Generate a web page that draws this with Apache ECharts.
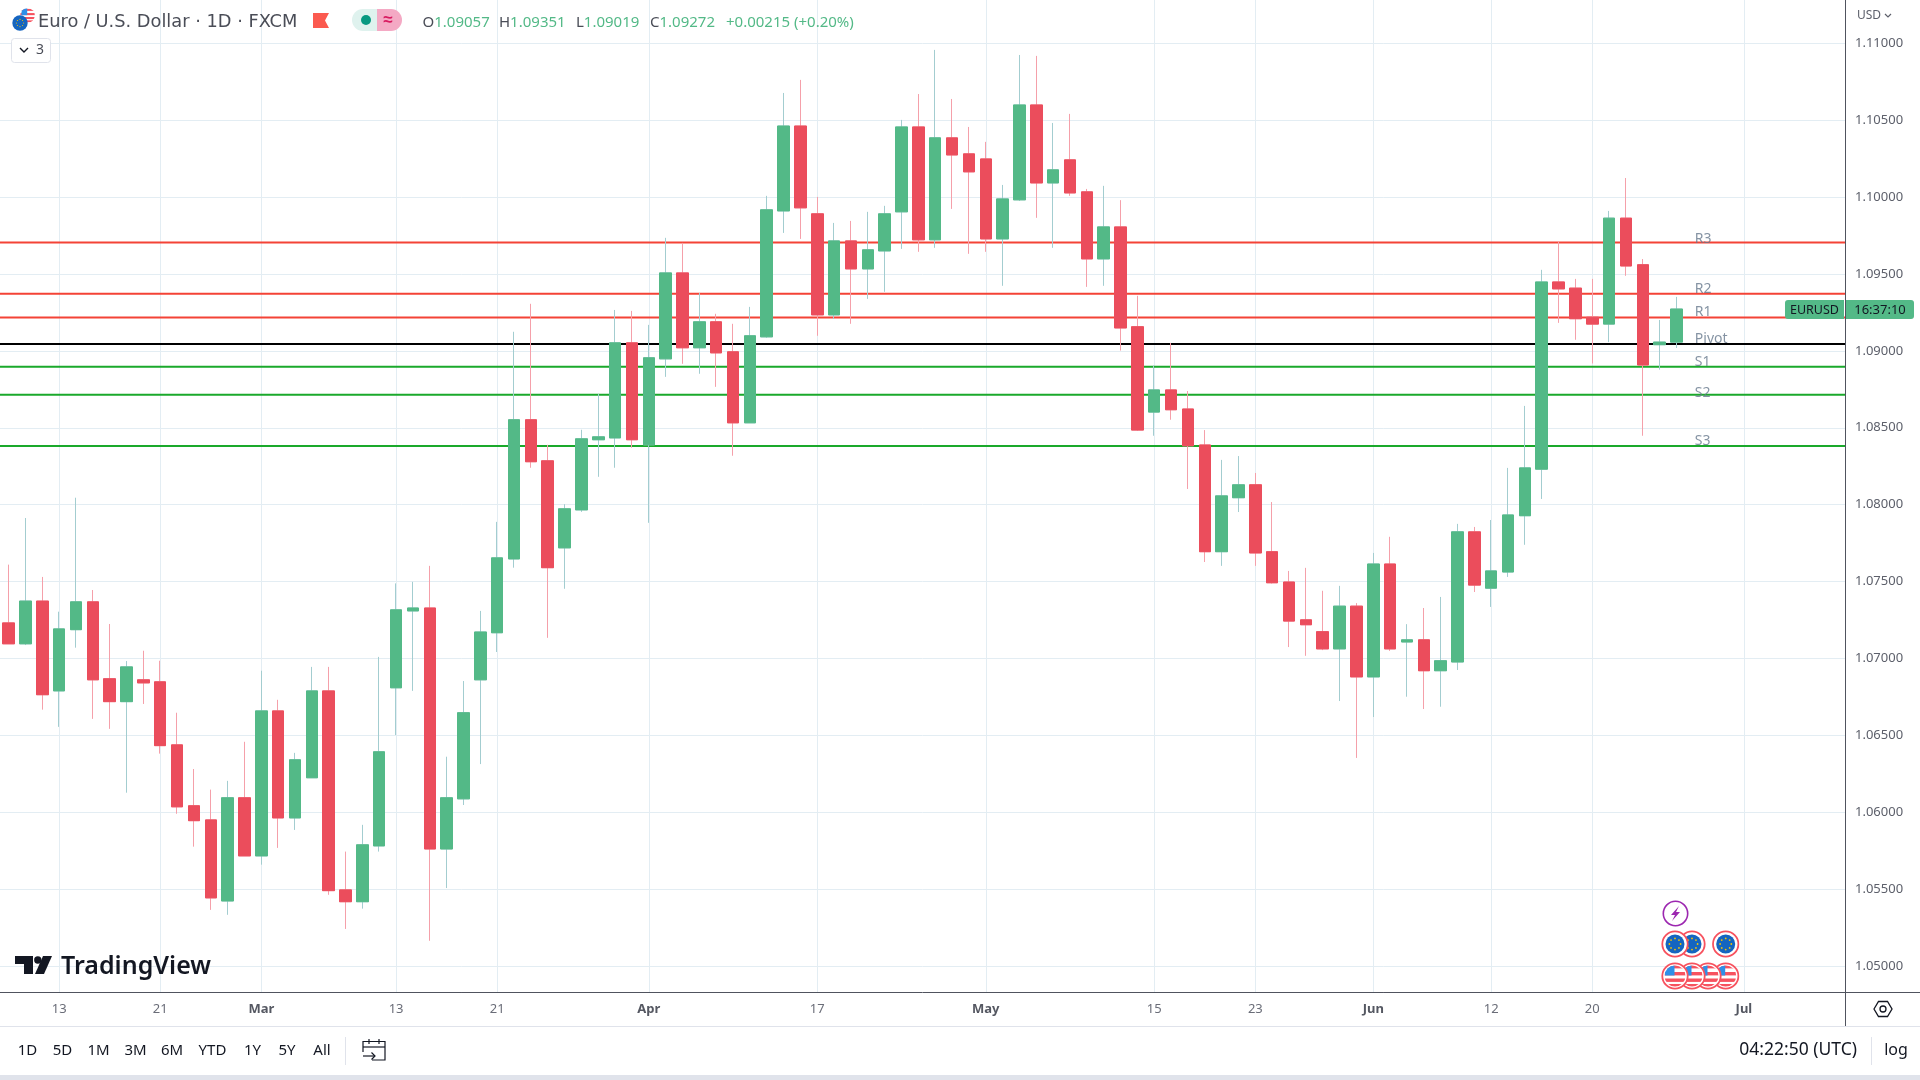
<!DOCTYPE html>
<html>
<head>
<meta charset="utf-8">
<title>EURUSD</title>
<style>html,body{margin:0;padding:0;background:#fff}#chart{width:1920px;height:1080px}</style>
<script src="https://cdn.jsdelivr.net/npm/echarts@6/dist/echarts.min.js"></script>
</head>
<body>
<div id="chart"></div>
<script>
// one entry per candle slot, the last ten slots are the empty space on the right
var days = [
'2023-02-08','2023-02-09','2023-02-10',
'2023-02-13','2023-02-14','2023-02-15','2023-02-16','2023-02-17',
'2023-02-20','2023-02-21','2023-02-22','2023-02-23','2023-02-24',
'2023-02-27','2023-02-28','2023-03-01','2023-03-02','2023-03-03',
'2023-03-06','2023-03-07','2023-03-08','2023-03-09','2023-03-10',
'2023-03-13','2023-03-14','2023-03-15','2023-03-16','2023-03-17',
'2023-03-20','2023-03-21','2023-03-22','2023-03-23','2023-03-24',
'2023-03-27','2023-03-28','2023-03-29','2023-03-30','2023-03-31',
'2023-04-03','2023-04-04','2023-04-05','2023-04-06','2023-04-07',
'2023-04-10','2023-04-11','2023-04-12','2023-04-13','2023-04-14',
'2023-04-17','2023-04-18','2023-04-19','2023-04-20','2023-04-21',
'2023-04-24','2023-04-25','2023-04-26','2023-04-27','2023-04-28',
'2023-05-01','2023-05-02','2023-05-03','2023-05-04','2023-05-05',
'2023-05-08','2023-05-09','2023-05-10','2023-05-11','2023-05-12',
'2023-05-15','2023-05-16','2023-05-17','2023-05-18','2023-05-19',
'2023-05-22','2023-05-23','2023-05-24','2023-05-25','2023-05-26',
'2023-05-29','2023-05-30','2023-05-31','2023-06-01','2023-06-02',
'2023-06-05','2023-06-06','2023-06-07','2023-06-08','2023-06-09',
'2023-06-12','2023-06-13','2023-06-14','2023-06-15','2023-06-16',
'2023-06-19','2023-06-20','2023-06-21','2023-06-22','2023-06-23',
'2023-06-26','2023-06-27','2023-06-28','2023-06-29','2023-06-30',
'2023-07-03','2023-07-04','2023-07-05','2023-07-06','2023-07-07',
'2023-07-10','2023-07-11'
];

var opens = [
1.07231,1.07095,1.07373,1.06789,1.07187,1.07368,1.06868,1.06719,1.06861,1.06848,
1.06438,1.06042,1.05950,1.05423,1.06094,1.05716,1.06659,1.05963,1.06224,1.06789,
1.05495,1.05418,1.05781,1.06809,1.07309,1.07328,1.05761,1.06087,1.06861,1.07167,
1.07647,1.08552,1.08285,1.07719,1.07966,1.08422,1.08434,1.09052,1.08389,1.08948,
1.09507,1.09020,1.09189,1.08994,1.08532,1.09091,1.09910,1.10462,1.09891,1.09234,
1.09715,1.09533,1.09650,1.09904,1.10456,1.09722,1.10385,1.10281,1.10248,1.09728,
1.09982,1.10599,1.10092,1.10242,1.10034,1.09598,1.09806,1.09157,1.08602,1.08746,
1.08622,1.08388,1.07694,1.08045,1.08129,1.07694,1.07497,1.07251,1.07174,1.07062,
1.07340,1.06880,1.07614,1.07107,1.07121,1.06920,1.06977,1.07823,1.07457,1.07562,
1.07928,1.08231,1.09448,1.09408,1.09219,1.09174,1.09863,1.09560,1.09040,1.09057
];
var highs = [
1.07610,1.07913,1.07530,1.07304,1.08045,1.07445,1.07224,1.06983,1.07050,1.06985,
1.06647,1.06281,1.06147,1.06204,1.06458,1.06920,1.06731,1.06386,1.06945,1.06945,
1.05744,1.05918,1.07010,1.07488,1.07498,1.07602,1.06361,1.06853,1.07309,1.07888,
1.09124,1.09306,1.08389,1.08003,1.08487,1.08720,1.09266,1.09260,1.09169,1.09735,
1.09702,1.09377,1.09241,1.09176,1.09286,1.10008,1.10677,1.10762,1.10001,1.09832,
1.09845,1.09904,1.09943,1.10502,1.10670,1.10957,1.10638,1.10456,1.10359,1.10079,
1.10924,1.10918,1.10482,1.10541,1.10053,1.10073,1.09980,1.09358,1.08905,1.09052,
1.08739,1.08485,1.08291,1.08316,1.08206,1.08017,1.07569,1.07589,1.07440,1.07472,
1.07360,1.07686,1.07791,1.07223,1.07328,1.07400,1.07875,1.07855,1.07900,1.08239,
1.08642,1.09527,1.09709,1.09468,1.09468,1.09910,1.10124,1.09597,1.09201,1.09351
];
var lows = [
1.07095,1.07087,1.06667,1.06555,1.07070,1.06607,1.06542,1.06127,1.06704,1.06381,
1.05990,1.05776,1.05365,1.05333,1.05716,1.05659,1.05768,1.05885,1.06224,1.05463,
1.05241,1.05373,1.05744,1.06502,1.06789,1.05164,1.05507,1.06047,1.06313,1.07042,
1.07590,1.08240,1.07134,1.07453,1.07953,1.08181,1.08240,1.08370,1.07882,1.08831,
1.08916,1.08851,1.08766,1.08318,1.08532,1.09085,1.09767,1.09728,1.09098,1.09208,
1.09176,1.09338,1.09384,1.09663,1.09644,1.09670,1.09923,1.09631,1.09644,1.09423,
1.09975,1.09865,1.09670,1.10008,1.09416,1.09423,1.09002,1.08480,1.08448,1.08552,
1.08102,1.07627,1.07602,1.07952,1.07602,1.07487,1.07074,1.07017,1.07054,1.06723,
1.06353,1.06619,1.07049,1.06751,1.06671,1.06686,1.06925,1.07432,1.07335,1.07530,
1.07739,1.08037,1.09182,1.09072,1.08918,1.09057,1.09488,1.08448,1.08878,1.09019
];
var closes = [
1.07095,1.07373,1.06764,1.07192,1.07368,1.06861,1.06719,1.06945,1.06841,1.06433,
1.06035,1.05945,1.05443,1.06094,1.05716,1.06659,1.05963,1.06341,1.06789,1.05490,
1.05418,1.05788,1.06393,1.07316,1.07328,1.05761,1.06094,1.06647,1.07172,1.07654,
1.08552,1.08279,1.07590,1.07973,1.08428,1.08441,1.09052,1.08422,1.08955,1.09507,
1.09020,1.09189,1.08987,1.08532,1.09098,1.09917,1.10462,1.09930,1.09234,1.09715,
1.09533,1.09657,1.09891,1.10456,1.09722,1.10385,1.10274,1.10164,1.09728,1.09988,
1.10599,1.10092,1.10177,1.10027,1.09598,1.09806,1.09149,1.08485,1.08746,1.08617,
1.08383,1.07694,1.08057,1.08129,1.07686,1.07492,1.07243,1.07219,1.07062,1.07340,
1.06880,1.07614,1.07062,1.07121,1.06920,1.06985,1.07823,1.07477,1.07569,1.07933,
1.08239,1.09448,1.09403,1.09209,1.09174,1.09863,1.09552,1.08908,1.09057,1.09272
];

var priceTicks = [1.05,1.055,1.06,1.065,1.07,1.075,1.08,1.085,1.09,1.095,1.10,1.105,1.11];

var dateLabels = {
'2023-02-13':'13','2023-02-21':'21','2023-03-01':'Mar','2023-03-13':'13','2023-03-21':'21',
'2023-04-03':'Apr','2023-04-17':'17','2023-05-01':'May','2023-05-15':'15','2023-05-23':'23',
'2023-06-01':'Jun','2023-06-12':'12','2023-06-20':'20','2023-07-03':'Jul'
};
var monthNames = ['Mar','Apr','May','Jun','Jul'];

var levelNames = ['R3','R2','R1','Pivot','S1','S2','S3'];
var levelValues = [1.09704,1.09371,1.09217,1.09045,1.08896,1.08714,1.08382];
var levelColors = ['#f44336','#f44336','#f44336','#000000','#1aa92b','#1aa92b','#1aa92b'];
var levelLabelSlot = 100;

var upColor = '#53b987', downColor = '#eb4d5c';
var upWick = '#a3cdd0', downWick = '#f5a0aa';
var uiFont = '"Noto Sans", sans-serif';

// x axis runs in candle slots, the fractions put slot 0 half a candle inside the frame
var slotMin = -0.51, slotMax = 109;

var xTicks = [];
days.forEach(function (d, n) { if (dateLabels[d]) xTicks.push(n); });

var wickData = [], bodyData = [];
for (var i = 0; i < opens.length; i++) {
  wickData.push([i, opens[i], closes[i], lows[i], highs[i]]);
  bodyData.push([i, opens[i], closes[i], Math.min(opens[i], closes[i]), Math.max(opens[i], closes[i])]);
}

function uri(svg) { return 'data:image/svg+xml;charset=utf-8,' + encodeURIComponent(svg); }

function euSvg(ring) {
  var dots = '';
  for (var a = 0; a < 8; a++) {
    dots += '<circle r="0.9" fill="#f5c400" cx="' + (14 + 5.6 * Math.cos(a * Math.PI / 4)) + '" cy="' + (14 + 5.6 * Math.sin(a * Math.PI / 4)) + '"/>';
  }
  return uri('<svg xmlns="http://www.w3.org/2000/svg" width="28" height="28">' +
    (ring ? '<circle cx="14" cy="14" r="12.7" fill="#fff" stroke="#f7525f" stroke-width="1.8"/>' : '') +
    '<circle cx="14" cy="14" r="' + (ring ? 9.5 : 12) + '" fill="#1565c0"/>' + dots + '</svg>');
}
function usSvg(ring) {
  return uri('<svg xmlns="http://www.w3.org/2000/svg" width="28" height="28">' +
    '<defs><clipPath id="c"><circle cx="14" cy="14" r="' + (ring ? 10.5 : 12) + '"/></clipPath></defs>' +
    (ring ? '<circle cx="14" cy="14" r="12.7" fill="#fff" stroke="#f7525f" stroke-width="1.8"/>' : '<circle cx="14" cy="14" r="12" fill="#fff"/>') +
    '<g clip-path="url(#c)"><rect x="0" y="10" width="28" height="3.4" fill="#f7525f"/>' +
    '<rect x="0" y="16.5" width="28" height="3.4" fill="#f7525f"/>' +
    '<rect x="0" y="3" width="28" height="3.4" fill="#f7525f"/>' +
    '<rect x="0" y="22" width="28" height="3" fill="#f7525f"/>' +
    '<rect x="4" y="2" width="9.5" height="11.5" fill="#2f8fe8"/></g></svg>');
}

function txt(x, y, text, size, color, align, weight, font) {
  return { type: 'text', x: x, y: y, z: 20, silent: true, style: {
    text: text, fontSize: size, fontFamily: font || uiFont, fill: color,
    align: align || 'left', verticalAlign: 'middle', fontWeight: weight || 'normal' } };
}
function ln(x1, y1, x2, y2, color, w) {
  return { type: 'line', z: 20, silent: true, shape: { x1: x1, y1: y1, x2: x2, y2: y2 },
    style: { stroke: color, lineWidth: w || 1 } };
}
function badge(src, cx, cy, z) {
  return { type: 'image', z: z, silent: true, style: { image: src, x: cx - 14, y: cy - 14, width: 28, height: 28 } };
}
function ohlc(x, key, val) {
  return { type: 'text', x: x, y: 23, z: 20, silent: true, style: {
    text: '{k|' + key + '}{v|' + val + '}', verticalAlign: 'middle',
    rich: { k: { fill: '#4a4d57', fontSize: 15, fontFamily: uiFont }, v: { fill: '#53b987', fontSize: 15, fontFamily: uiFont } } } };
}

var tabNames = ['1D','5D','1M','3M','6M','YTD','1Y','5Y','All'];
var tabCentres = [27.5,62.5,98.5,135.5,172,212.5,252.5,287,322];

var elements = [
  // header
  { type: 'image', z: 20, silent: true, style: { image: usSvg(false), x: 19, y: 7, width: 17, height: 17 } },
  { type: 'image', z: 21, silent: true, style: { image: euSvg(false), x: 11, y: 14, width: 18, height: 18 } },
  txt(38, 22.5, 'Euro / U.S. Dollar · 1D · FXCM', 17.8, '#4a4d57', 'left', 'normal', '"DejaVu Sans", sans-serif'),
  { type: 'polygon', z: 20, silent: true, shape: { points: [[313,13],[329,13],[325,20.5],[329,28],[313,28]] }, style: { fill: '#fb5a4f' } },
  { type: 'rect', z: 20, silent: true, shape: { x: 352, y: 9, width: 40, height: 22, r: [11,0,0,11] }, style: { fill: '#dff2ee' } },
  { type: 'rect', z: 20, silent: true, shape: { x: 377, y: 9, width: 25, height: 22, r: [0,11,11,0] }, style: { fill: '#f4a9c4' } },
  { type: 'circle', z: 21, silent: true, shape: { cx: 366, cy: 20, r: 5 }, style: { fill: '#089981' } },
  txt(388, 20, '≈', 17, '#d81b60', 'center', 'bold'),
  ohlc(422.5, 'O', '1.09057'),
  ohlc(499, 'H', '1.09351'),
  ohlc(576, 'L', '1.09019'),
  ohlc(650, 'C', '1.09272'),
  ohlc(726, '', '+0.00215 (+0.20%)'),
  { type: 'rect', z: 20, silent: true, shape: { x: 11.5, y: 38.5, width: 39, height: 24, r: 3 }, style: { fill: '#fff', stroke: '#e0e3eb' } },
  { type: 'polyline', z: 21, silent: true, shape: { points: [[20,48],[24,52],[28,48]] }, style: { fill: 'none', stroke: '#131722', lineWidth: 1.4 } },
  txt(36, 50, '3', 14, '#4a4d57'),

  // right scale decorations
  { type: 'rect', z: 19, silent: true, shape: { x: 1846, y: 0, width: 74, height: 32 }, style: { fill: '#fff' } },
  txt(1857, 16, 'USD', 12, '#5d606b'),
  { type: 'polyline', z: 21, silent: true, shape: { points: [[1885,14],[1888,17],[1891,14]] }, style: { fill: 'none', stroke: '#5d606b', lineWidth: 1.2 } },
  { type: 'rect', z: 20, silent: true, shape: { x: 1785, y: 300, width: 59, height: 19, r: [3,0,0,3] }, style: { fill: upColor } },
  txt(1814.5, 310, 'EURUSD', 12.5, '#131722', 'center'),
  { type: 'rect', z: 20, silent: true, shape: { x: 1846, y: 300, width: 68, height: 19, r: [0,3,3,0] }, style: { fill: upColor } },
  txt(1880, 310, '16:37:10', 13, '#131722', 'center'),

  // frame below the plot
  ln(1845.5, 992, 1845.5, 1026, '#50535e'),
  ln(1845, 992.5, 1920, 992.5, '#50535e'),
  ln(0, 1026.5, 1920, 1026.5, '#e0e3eb'),
  { type: 'rect', z: 20, silent: true, shape: { x: 0, y: 1075, width: 1920, height: 5 }, style: { fill: '#e0e3eb' } },
  { type: 'polygon', z: 20, silent: true, shape: { points: [[1874,1009],[1878.5,1001.5],[1887.5,1001.5],[1892,1009],[1887.5,1016.5],[1878.5,1016.5]] }, style: { fill: 'none', stroke: '#131722', lineWidth: 1.3 } },
  { type: 'circle', z: 20, silent: true, shape: { cx: 1883, cy: 1009, r: 3 }, style: { fill: 'none', stroke: '#131722', lineWidth: 1.3 } },

  // bottom toolbar
  ln(345.5, 1037, 345.5, 1065, '#e0e3eb'),
  { type: 'polyline', z: 20, silent: true, shape: { points: [[363,1052],[363,1041.5],[385,1041.5],[385,1060],[372,1060]] }, style: { fill: 'none', stroke: '#131722', lineWidth: 1.2 } },
  ln(363, 1047, 385, 1047, '#131722', 1.2),
  ln(369, 1039, 369, 1044, '#131722', 1.2),
  ln(379, 1039, 379, 1044, '#131722', 1.2),
  ln(363, 1056, 375, 1056, '#131722', 1.2),
  { type: 'polyline', z: 20, silent: true, shape: { points: [[371.5,1052.5],[375,1056],[371.5,1059.5]] }, style: { fill: 'none', stroke: '#131722', lineWidth: 1.2 } },
  txt(1857, 1050.5, '04:22:50 (UTC)', 17.5, '#131722', 'right'),
  ln(1871.5, 1037, 1871.5, 1065, '#e0e3eb'),
  txt(1896, 1050.5, 'log', 16, '#131722', 'center'),

  // watermark logo
  { type: 'polygon', z: 20, silent: true, shape: { points: [[15,956],[33,956],[33,974],[24,974],[24,964],[15,964]] }, style: { fill: '#131722' } },
  { type: 'circle', z: 20, silent: true, shape: { cx: 37.8, cy: 960, r: 3.7 }, style: { fill: '#131722' } },
  { type: 'polygon', z: 20, silent: true, shape: { points: [[43,956],[52,956],[44,974],[35,974]] }, style: { fill: '#131722' } },
  txt(61, 967, 'TradingView', 25, '#131722', 'left', 600),

  // event badges, drawn right to left so the left ones sit on top
  badge(euSvg(true), 1725.7, 944, 20),
  badge(euSvg(true), 1692, 944, 20),
  badge(euSvg(true), 1675, 944, 21),
  badge(usSvg(true), 1725.7, 976, 20),
  badge(usSvg(true), 1708, 976, 21),
  badge(usSvg(true), 1692, 976, 22),
  badge(usSvg(true), 1675, 976, 23),
  { type: 'circle', z: 20, silent: true, shape: { cx: 1675.5, cy: 913.5, r: 12.2 }, style: { fill: '#fff', stroke: '#9c27b0', lineWidth: 1.6 } },
  { type: 'polygon', z: 21, silent: true, shape: { points: [[1679,906],[1671,915],[1675,915],[1672,921],[1680,912],[1676,912]] }, style: { fill: '#9c27b0' } }
];
tabNames.forEach(function (name, n) {
  elements.push(txt(tabCentres[n], 1050.5, name, 15, '#131722', 'center'));
});

var series = [];
levelValues.forEach(function (v, n) {
  series.push({
    name: levelNames[n], type: 'line', z: 1, silent: true, symbol: 'none',
    data: [[slotMin, v], [slotMax, v]],
    lineStyle: { color: levelColors[n], width: 2 }
  });
});
series.push({
  name: 'wick', type: 'candlestick', z: 3, barWidth: 12, data: wickData, silent: true,
  encode: { x: 0, y: [1, 2, 3, 4] },
  itemStyle: { color: upWick, color0: downWick, borderColor: upWick, borderColor0: downWick, borderWidth: 1 }
});
series.push({
  name: 'EURUSD', type: 'candlestick', z: 4, barWidth: 12, data: bodyData, silent: true,
  encode: { x: 0, y: [1, 2, 3, 4] },
  itemStyle: { color: upColor, color0: downColor, borderColor: upColor, borderColor0: downColor, borderWidth: 1 }
});
// R3 and S2 text sit a little closer to their lines than the others
var labelLift = { R3: -3.5, S2: -2 };
series.push({
  type: 'scatter', z: 6, silent: true, symbolSize: 1, itemStyle: { color: 'rgba(0,0,0,0)' },
  data: levelValues.map(function (v, n) {
    return {
      value: [levelLabelSlot, v], name: levelNames[n],
      label: { offset: [1, labelLift[levelNames[n]] || -5] }
    };
  }),
  label: {
    show: true, position: 'right', distance: 0, formatter: '{b}',
    fontFamily: uiFont, fontSize: 14, color: '#66788c'
  }
});

var chart = echarts.init(document.getElementById('chart'));
chart.setOption({
  animation: false,
  backgroundColor: '#ffffff',
  grid: { left: 0, top: 0, width: 1845, height: 992, containLabel: false },
  xAxis: {
    type: 'value', min: slotMin, max: slotMax, position: 'bottom',
    axisLine: { show: true, onZero: false, lineStyle: { color: '#50535e' } },
    axisTick: { show: false, customValues: xTicks },
    axisLabel: {
      customValues: xTicks, showMinLabel: true, showMaxLabel: true,
      margin: 11, fontFamily: uiFont, fontSize: 13, color: '#6a6d78',
      formatter: function (slot) {
        var t = dateLabels[days[slot]];
        return monthNames.indexOf(t) >= 0 ? '{m|' + t + '}' : t;
      },
      rich: { m: { fontFamily: uiFont, fontSize: 13, fontWeight: 'bold', color: '#555862' } }
    },
    splitLine: { show: true, lineStyle: { color: '#e3edf3', width: 1 } }
  },
  yAxis: {
    type: 'value', position: 'right', scale: true,
    min: 1.04831, max: 1.112815,
    axisLine: { show: true, onZero: false, lineStyle: { color: '#50535e' } },
    axisTick: { show: false, customValues: priceTicks },
    axisLabel: {
      customValues: priceTicks, margin: 10, fontFamily: uiFont, fontSize: 13, color: '#5d606b',
      formatter: function (v) { return v.toFixed(5); }
    },
    splitLine: { show: true, lineStyle: { color: '#e3edf3', width: 1 } }
  },
  series: series,
  graphic: { elements: elements }
});
</script>
</body>
</html>
